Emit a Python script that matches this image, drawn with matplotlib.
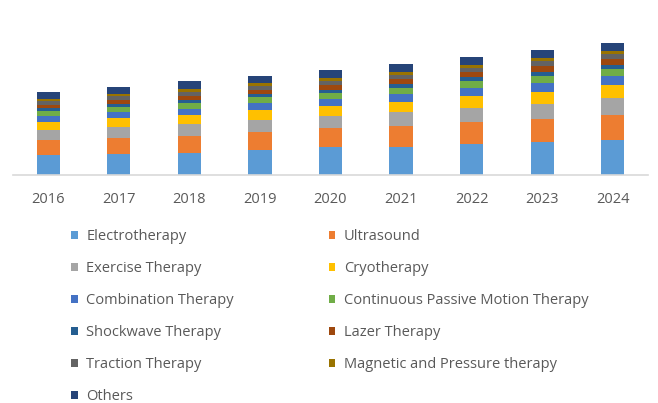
import matplotlib
matplotlib.use("Agg")
import matplotlib.pyplot as plt
import numpy as np

years = ["2016", "2017", "2018", "2019", "2020", "2021", "2022", "2023", "2024"]
series_names = ["Electrotherapy", "Ultrasound", "Exercise Therapy", "Cryotherapy",
                "Combination Therapy", "Continuous Passive Motion Therapy",
                "Shockwave Therapy", "Lazer Therapy", "Traction Therapy",
                "Magnetic and Pressure therapy", "Others"]

electrotherapy = [20, 21, 22, 25, 28, 28, 31, 33, 35]
ultrasound = [15, 16, 17, 18, 19, 21, 22, 23, 25]
exercise = [10, 11, 12, 12, 12, 14, 14, 15, 17]
cryotherapy = [8, 9, 9, 10, 10, 10, 12, 12, 13]
combination = [6, 6, 6, 7, 7, 8, 8, 9, 9]
cpm = [5, 5, 6, 6, 6, 6, 7, 7, 7]
shockwave = [3, 3, 3, 3, 3, 4, 4, 4, 4]
lazer = [3.5, 4, 4, 4, 5, 5, 5, 6, 6]
traction = [3.5, 4, 4, 4, 4, 4, 4, 5, 5]
magnetic = [2, 2, 3, 3, 3, 3, 3, 3, 3]
others = [7, 7, 8, 7, 8, 8, 8, 8, 8]

series = [electrotherapy, ultrasound, exercise, cryotherapy, combination, cpm,
          shockwave, lazer, traction, magnetic, others]
colors = ["#5B9BD5", "#ED7D31", "#A5A5A5", "#FFC000", "#4472C4", "#70AD47",
          "#255E91", "#9E480E", "#636363", "#997300", "#264478"]

plt.rcParams["font.family"] = ["Open Sans", "DejaVu Sans"]
fig = plt.figure(figsize=(6.58, 4.03), dpi=100)
ax = fig.add_axes([13/658, 1 - 175/403, 635/658, 163/403])

x = np.arange(len(years))
bottom = np.zeros(len(years))
handles = []
for name, vals, c in zip(series_names, series, colors):
    v = np.array(vals, dtype=float)
    h = ax.bar(x, v, width=0.33, bottom=bottom, color=c, label=name, linewidth=0)
    handles.append(h)
    bottom += v

ax.set_xlim(-0.5, len(years) - 0.5)
ax.set_ylim(0, 163)
ax.set_yticks([])
ax.set_xticks(x)
ax.set_xticklabels(years, fontsize=10.5, color="#595959")
ax.tick_params(axis="x", length=0, pad=12)
for s in ["top", "right", "left"]:
    ax.spines[s].set_visible(False)
ax.spines["bottom"].set_color("#D9D9D9")
ax.spines["bottom"].set_linewidth(1.2)

# reorder so matplotlib's column-first filling gives row-wise order
order = list(range(0, 11, 2)) + list(range(1, 11, 2))
leg = fig.legend([handles[i] for i in order], [series_names[i] for i in order],
                 ncol=2, loc="upper left", bbox_to_anchor=(71/658, 1 - 229/403),
                 frameon=False, fontsize=10.5, labelcolor="#595959",
                 handlelength=0.45, handleheight=0.45, handletextpad=0.6,
                 labelspacing=1.17, columnspacing=6.5, borderpad=0, borderaxespad=0)

fig.savefig("out.png", dpi=100, facecolor="white")
